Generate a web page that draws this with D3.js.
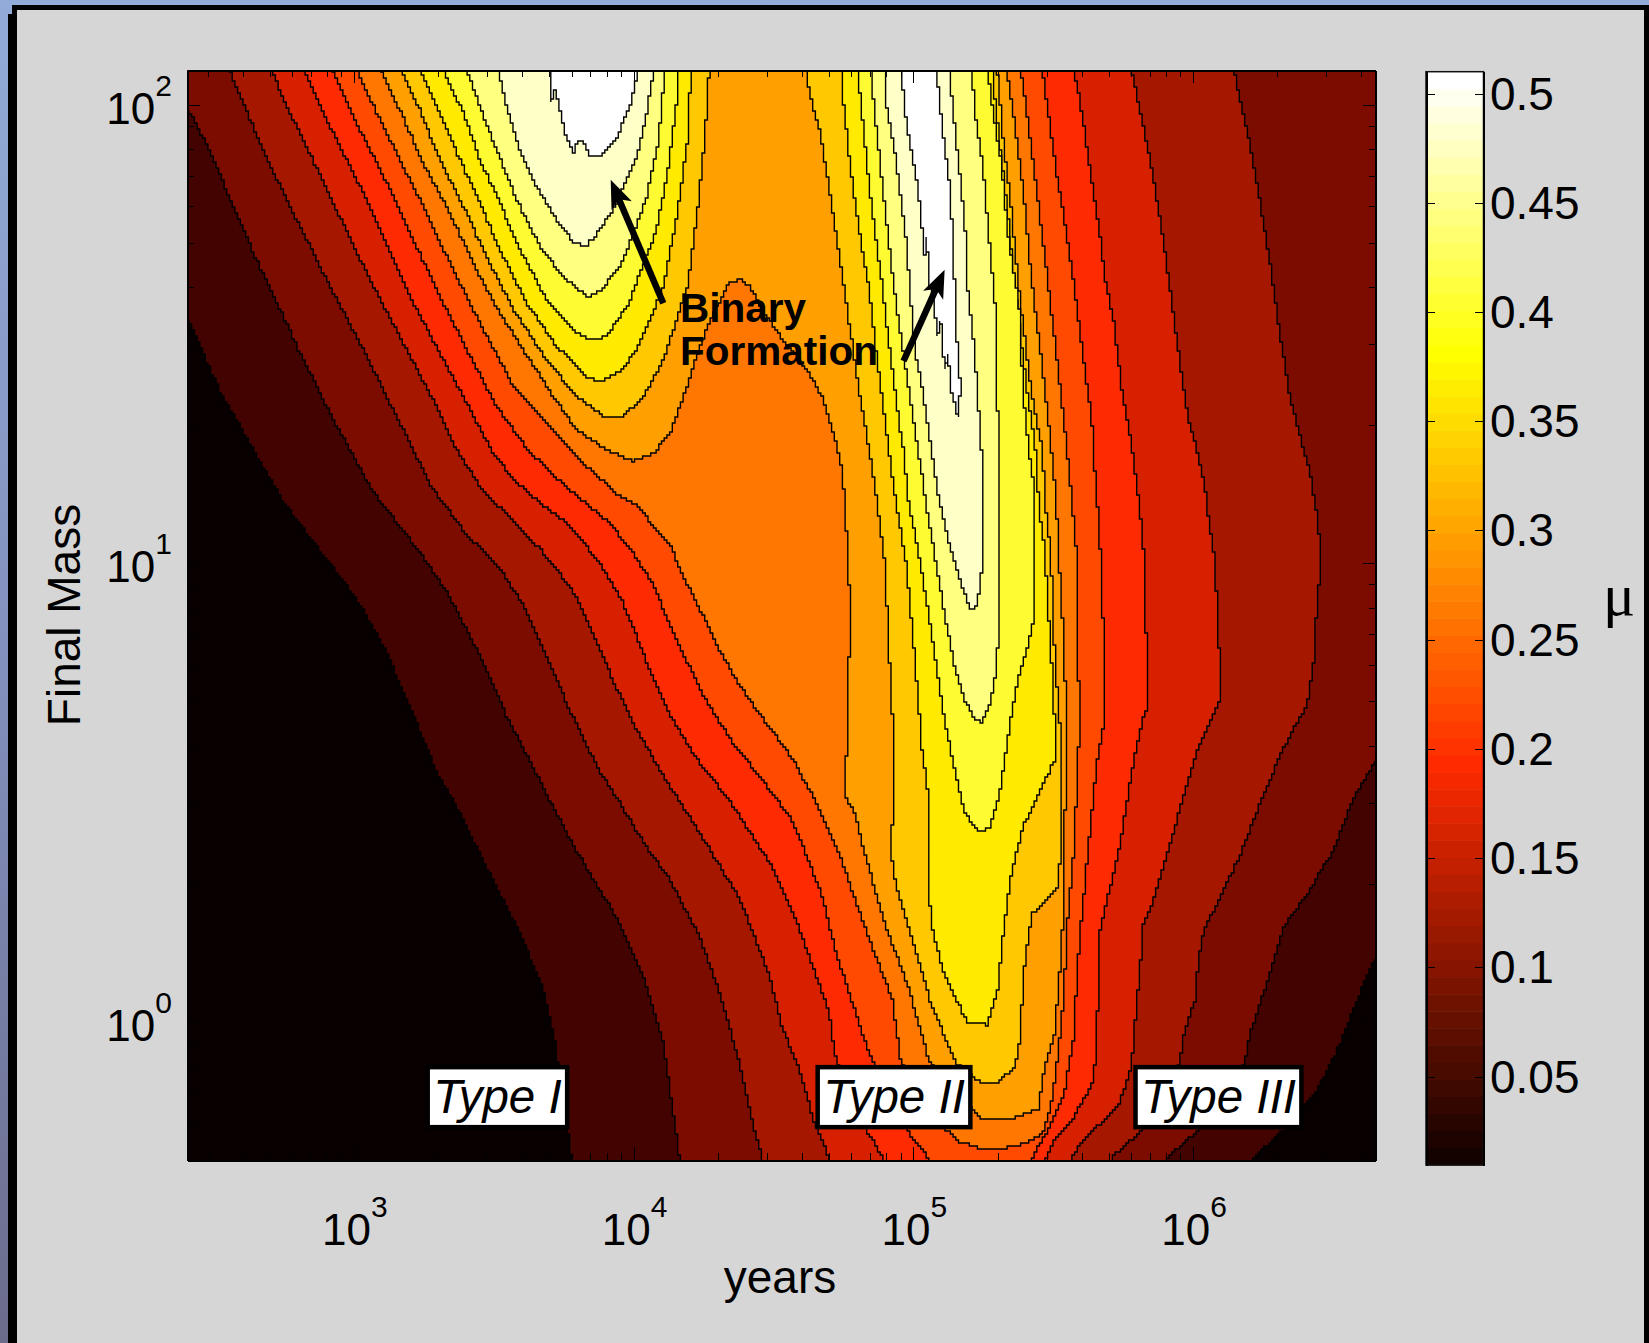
<!DOCTYPE html>
<meta charset="utf-8">
<style>
  body { margin: 0; background: #d6d6d6; }
  svg { display: block; }
  text { font-family: "Liberation Sans", Arial, sans-serif; fill: #000; }
  .axis path, .axis line { stroke: #000; shape-rendering: crispEdges; }
  .axis text { font-size: 46px; }
  .contour { stroke: #000; stroke-width: 1.4; stroke-linejoin: miter; }
</style>
<svg width="1649" height="1343"></svg>
<script src="https://d3js.org/d3.v7.min.js"></script>
<script>
  // axis limits
  var yearsDomain = [253, 4.5e6];
  var massDomain = [0.5, 119];
  var muDomain = [0.0095, 0.51];

  var xMajor = [1e3, 1e4, 1e5, 1e6];
  var yMajor = [1, 10, 100];
  var muTicks = [0.05, 0.1, 0.15, 0.2, 0.25, 0.3, 0.35, 0.4, 0.45, 0.5];

  // colours of the filled bands, lowest first (band 0 is the plot background)
  var bandColors = ["#080000", "#430300", "#7c0c00", "#a61700", "#d72000", "#fd2a02", "#ff4a00",
    "#ff7700", "#ff9f00", "#ffc800", "#ffea00", "#fffb33", "#ffff80", "#ffffc8", "#ffffff"];

  // colorbar anchors: position in 0..1 and colour
  var barStops = [0, 0.375, 0.75, 1];
  var barColors = ["#0a0000", "#ff2a00", "#ffff00", "#ffffff"];

  // contour lines as [log10 years, log10 final mass]
  var contour1 = [[2.403,1.535],[2.521,1.374],[2.616,1.273],[2.640,1.247],[2.753,1.127],[2.917,.997],[3.026,.906],[3.122,.797],[3.218,.659],[3.300,.539],[3.354,.484],[3.478,.332],[3.593,.194],[3.676,.070],[3.717,-.039],[3.731,-.097],[3.779,-.301],
    [6.205,-.301],[6.325,-.235],[6.438,-.155],[6.521,-.054],[6.607,.077],[6.653,.143],[6.653,2.076],[2.403,2.076]];
  var contour2 = [[2.403,1.996],[2.479,1.905],[2.561,1.789],[2.643,1.672],[2.739,1.549],[2.807,1.458],[2.926,1.313],[3.063,1.160],[3.163,1.080],[3.272,.993],[3.355,.913],[3.450,.797],[3.546,.666],[3.656,.535],[3.793,.375],[3.943,.223],[4.039,.092],[4.107,-.046],[4.134,-.170],[4.165,-.301],
    [5.896,-.301],[6.028,-.231],[6.184,-.089],[6.205,-.024],[6.268,.092],[6.325,.208],[6.410,.281],[6.502,.375],[6.571,.484],[6.653,.571],[6.653,2.076],[2.403,2.076]];
  var contour3 = [[2.554,2.076],[2.616,1.985],[2.698,1.869],[2.807,1.734],[2.926,1.589],[3.045,1.451],[3.164,1.305],[3.283,1.160],[3.409,1.058],[3.518,.993],[3.601,.913],[3.683,.804],[3.765,.688],[3.874,.550],[3.943,.484],[4.052,.375],[4.121,.317],[4.230,.194],[4.312,.055],[4.381,-.097],[4.435,-.242],[4.462,-.301],
    [5.700,-.301],[5.823,-.231],[5.950,-.090],[5.972,-.017],[6.007,.048],[6.021,.143],[6.042,.208],[6.099,.273],[6.171,.369],[6.240,.477],[6.310,.579],[6.368,.651],[6.407,.688],[6.431,.782],[6.445,.927],[6.459,1.000],[6.445,1.102],[6.417,1.204],[6.396,1.247],[6.346,1.367],[6.310,1.505],[6.275,1.658],[6.240,1.789],[6.205,1.912],[6.169,2.007],[6.148,2.076]];
  var contour4 = [[2.705,2.076],[2.766,1.985],[2.807,1.938],[2.926,1.785],[3.057,1.618],[3.164,1.494],[3.283,1.356],[3.368,1.247],[3.457,1.160],[3.518,1.124],[3.628,1.055],[3.710,1.000],[3.793,.927],[3.861,.840],[3.929,.739],[4.011,.637],[4.121,.521],[4.262,.386],[4.381,.266],[4.487,.099],[4.530,-.010],[4.593,-.104],[4.643,-.213],[4.702,-.301],
    [5.557,-.301],[5.618,-.250],[5.731,-.184],[5.773,-.112],[5.785,-.061],[5.802,.063],[5.813,.135],[5.823,.215],[5.859,.266],[5.901,.353],[5.972,.506],[6.014,.590],[6.042,.630],[6.099,.706],[6.092,.840],[6.077,1.015],[6.050,1.124],[6.042,1.171],[6.014,1.247],[5.985,1.309],[5.950,1.454],[5.915,1.614],[5.880,1.760],[5.844,1.890],[5.802,2.015],[5.781,2.076]];
  var contour5 = [[2.819,2.076],[2.914,1.952],[3.010,1.836],[3.105,1.712],[3.200,1.581],[3.307,1.458],[3.403,1.349],[3.492,1.247],[3.560,1.189],[3.656,1.135],[3.751,1.091],[3.833,1.036],[3.902,.978],[3.957,.920],[4.011,.840],[4.066,.753],[4.134,.666],[4.217,.579],[4.340,.484],[4.449,.382],[4.487,.346],[4.586,.215],[4.699,.019],[4.720,-.075],[4.826,-.231],[4.897,-.301],
    [5.470,-.301],[5.505,-.257],[5.576,-.206],[5.639,-.133],[5.653,-.075],[5.661,.063],[5.668,.201],[5.738,.382],[5.788,.571],[5.823,.666],[5.841,.684],[5.841,.818],[5.826,.869],[5.823,1.029],[5.809,1.124],[5.781,1.258],[5.745,1.382],[5.717,1.527],[5.688,1.614],[5.661,1.745],[5.632,1.861],[5.604,1.978],[5.576,2.076]];
  var contour6 = [[2.920,2.076],[3.010,1.959],[3.117,1.829],[3.212,1.705],[3.307,1.581],[3.403,1.465],[3.510,1.342],[3.621,1.247],[3.738,1.178],[3.847,1.120],[3.915,1.087],[4.005,1.015],[4.066,.957],[4.121,.877],[4.175,.804],[4.258,.702],[4.354,.608],[4.487,.506],[4.558,.448],[4.607,.379],[4.671,.281],[4.727,.143],[4.841,-.068],[4.975,-.235],[5.059,-.301],
    [5.420,-.301],[5.484,-.231],[5.540,-.155],[5.576,-.024],[5.583,.085],[5.597,.194],[5.625,.375],[5.653,.550],[5.686,.673],[5.681,.840],[5.668,1.036],[5.653,1.175],[5.643,1.247],[5.639,1.309],[5.597,1.498],[5.569,1.636],[5.540,1.752],[5.512,1.854],[5.477,2.007],[5.462,2.076]];
  var contour7 = [[3.010,2.076],[3.093,1.967],[3.176,1.865],[3.260,1.763],[3.343,1.654],[3.450,1.523],[3.570,1.385],[3.712,1.291],[3.820,1.218],[3.936,1.153],[4.025,1.120],[4.066,1.080],[4.134,1.036],[4.182,.964],[4.244,.891],[4.312,.804],[4.381,.731],[4.487,.640],[4.572,.571],[4.614,.521],[4.650,.484],[4.742,.353],[4.826,.208],[4.925,.048],[4.954,-.083],[5.116,-.235],[5.166,-.261],[5.229,-.275],[5.328,-.275],[5.406,-.264],[5.462,-.242],[5.491,-.188],[5.512,-.097],[5.526,-.024],[5.540,.070],[5.548,.194],[5.576,.390],[5.593,.630],[5.590,.811],[5.583,1.029],[5.569,1.127],[5.550,1.247],[5.526,1.382],[5.498,1.527],[5.470,1.672],[5.441,1.818],[5.413,1.949],[5.385,2.076]];
  var contour8 = [[3.093,2.076],[3.164,1.988],[3.248,1.872],[3.343,1.763],[3.426,1.654],[3.522,1.545],[3.629,1.443],[3.712,1.363],[3.796,1.291],[3.903,1.247],[3.998,1.222],[4.070,1.240],[4.130,1.284],[4.177,1.363],[4.225,1.451],[4.279,1.538],[4.344,1.614],[4.380,1.618],[4.416,1.603],[4.475,1.538],[4.535,1.487],[4.618,1.422],[4.671,1.367],[4.713,1.287],[4.749,1.193],[4.756,1.102],[4.766,1.029],[4.774,.891],[4.766,.673],[4.756,.491],[4.791,.455],[4.826,.368],[4.897,.215],[4.982,.077],[5.059,-.090],[5.243,-.213],[5.349,-.213],[5.449,-.188],[5.462,-.119],[5.505,-.024],[5.519,.070],[5.533,.194],[5.540,.375],[5.548,.630],[5.540,.811],[5.519,1.029],[5.512,1.127],[5.494,1.247],[5.484,1.309],[5.456,1.454],[5.420,1.636],[5.399,1.781],[5.370,1.927],[5.335,2.076]];
  var contour9a = [[3.168,2.076],[3.236,1.988],[3.307,1.879],[3.391,1.778],[3.462,1.683],[3.570,1.552],[3.689,1.443],[3.796,1.363],[3.903,1.316],[3.963,1.320],[4.034,1.363],[4.106,1.443],[4.195,1.611],[4.231,1.785],[4.255,1.930],[4.270,2.076]];
  var contour9b = [[4.619,2.076],[4.628,2.028],[4.671,1.927],[4.699,1.818],[4.735,1.672],[4.770,1.527],[4.805,1.382],[4.841,1.251],[4.872,1.127],[4.897,1.007],[4.911,.848],[4.918,.746],[4.928,.644],[4.933,.484],[4.918,.375],[4.939,.295],[4.996,.179],[5.066,.034],[5.151,-.090],[5.237,-.132],[5.300,-.132],[5.364,-.097],[5.385,-.024],[5.392,.099],[5.413,.194],[5.427,.237],[5.519,.295],[5.526,.375],[5.526,.630],[5.505,.811],[5.491,1.029],[5.472,1.127],[5.462,1.247],[5.420,1.382],[5.378,1.600],[5.349,1.781],[5.321,1.927],[5.300,2.076]];
  var contour10a = [[3.238,2.076],[3.307,1.981],[3.379,1.879],[3.450,1.785],[3.522,1.683],[3.617,1.567],[3.725,1.472],[3.832,1.407],[3.879,1.396],[3.951,1.418],[4.011,1.465],[4.106,1.603],[4.154,1.756],[4.195,1.930],[4.204,2.076]];
  var contour10b = [[4.745,2.076],[4.749,2.014],[4.777,1.854],[4.805,1.731],[4.841,1.600],[4.869,1.454],[4.904,1.287],[4.939,1.127],[4.975,1.000],[5.003,.811],[5.031,.593],[5.053,.499],[5.059,.390],[5.053,.310],[5.066,.208],[5.109,.106],[5.194,-.003],[5.265,-.006],[5.307,.085],[5.314,.157],[5.349,.317],[5.392,.426],[5.449,.499],[5.505,.571],[5.508,.622],[5.498,.753],[5.484,.884],[5.470,1.029],[5.449,1.127],[5.437,1.247],[5.406,1.382],[5.364,1.600],[5.335,1.781],[5.307,1.927],[5.282,2.076]];
  var contour11a = [[3.319,2.076],[3.391,1.981],[3.450,1.879],[3.522,1.785],[3.582,1.698],[3.689,1.574],[3.796,1.502],[3.844,1.487],[3.903,1.494],[3.981,1.567],[4.082,1.727],[4.124,1.865],[4.154,2.003],[4.159,2.076]];
  var contour11b = [[4.801,2.076],[4.819,1.963],[4.841,1.832],[4.869,1.694],[4.890,1.600],[4.918,1.454],[4.954,1.287],[4.965,1.247],[4.982,1.138],[5.025,1.000],[5.067,.840],[5.109,.666],[5.145,.557],[5.180,.462],[5.222,.423],[5.243,.415],[5.272,.426],[5.307,.491],[5.335,.608],[5.371,.739],[5.406,.811],[5.431,.877],[5.431,1.175],[5.413,1.247],[5.392,1.382],[5.378,1.563],[5.342,1.701],[5.314,1.876],[5.286,1.985],[5.265,2.076]];
  var contour12a = [[3.403,2.076],[3.450,1.996],[3.510,1.901],[3.582,1.792],[3.665,1.690],[3.748,1.625],[3.832,1.581],[3.879,1.592],[3.963,1.661],[4.046,1.799],[4.088,1.916],[4.112,2.076]];
  var contour12b = [[4.848,2.076],[4.862,1.985],[4.890,1.818],[4.918,1.672],[4.939,1.563],[4.975,1.418],[5.017,1.247],[5.053,1.102],[5.109,.898],[5.145,.782],[5.187,.695],[5.222,.659],[5.243,.651],[5.272,.688],[5.293,.753],[5.303,.826],[5.304,1.109],[5.311,1.247],[5.307,1.273],[5.293,1.418],[5.293,1.563],[5.272,1.701],[5.250,1.861],[5.222,1.978],[5.208,2.076]];
  var contour13a = [[3.516,2.076],[3.546,1.996],[3.593,1.901],[3.653,1.821],[3.725,1.749],[3.790,1.696],[3.832,1.694],[3.879,1.727],[3.939,1.785],[4.011,1.887],[4.046,1.981],[4.073,2.076]];
  var contour13b = [[4.897,2.076],[4.904,1.999],[4.939,1.876],[4.975,1.701],[5.003,1.476],[5.031,1.382],[5.064,1.247],[5.088,1.153],[5.124,1.051],[5.166,.964],[5.201,.902],[5.222,.898],[5.237,.942],[5.246,.993],[5.246,1.225],[5.229,1.382],[5.215,1.491],[5.194,1.600],[5.187,1.716],[5.166,1.854],[5.140,1.999],[5.130,2.076]];
  var contour14a = [[3.701,2.076],[3.707,2.007],[3.719,2.032],[3.734,1.996],[3.754,1.938],[3.787,1.893],[3.796,1.919],[3.818,1.919],[3.844,1.889],[3.868,1.885],[3.903,1.901],[3.939,1.930],[3.981,1.988],[4.005,2.039],[4.013,2.076]];
  var contour14b = [[4.958,2.076],[4.968,1.999],[4.982,1.934],[5.017,1.818],[5.031,1.731],[5.041,1.672],[5.048,1.709],[5.056,1.614],[5.074,1.557],[5.088,1.498],[5.098,1.527],[5.112,1.425],[5.124,1.454],[5.134,1.382],[5.159,1.320],[5.169,1.382],[5.151,1.527],[5.145,1.672],[5.131,1.818],[5.109,1.927],[5.088,2.043],[5.088,2.076]];

  var contours = [
    [1, contour1], [2, contour2], [3, contour3], [4, contour4], [5, contour5], [6, contour6], [7, contour7], [8, contour8],
    [9, contour9a], [9, contour9b], [10, contour10a], [10, contour10b], [11, contour11a], [11, contour11b],
    [12, contour12a], [12, contour12b], [13, contour13a], [13, contour13b], [14, contour14a], [14, contour14b]
  ];

  // annotations, same units
  var arrowTails = [[4.106, 1.567], [4.965, 1.441]];
  var arrowHeads = [[3.918, 1.836], [5.112, 1.640]];
  var typeLabels = ["Type I", "Type II", "Type III"];
  var typeLogYears = [3.513, 4.931, 6.091];
  var typeLogMass = -0.164;
  var binaryLines = ["Binary", "Formation"];
  var binaryLogMass = [1.526, 1.433];
  var binaryLogYears = 4.166;

  var svg = d3.select("svg"),
    margin = { top: 70, right: 1375.7, bottom: 1160, left: 187 };

  var x = d3.scaleLog().domain(yearsDomain).range([margin.left, margin.right]),
    y = d3.scaleLog().domain(massDomain).range([margin.bottom, margin.top]),
    mu = d3.scaleLinear().domain(muDomain).range([1165, 71.7]);

  function px(d) { return [x(Math.pow(10, d[0])), y(Math.pow(10, d[1]))]; }

  // slide edge behind the panel
  var defs = svg.append("defs");
  var grad = defs.append("linearGradient").attr("id", "slide")
    .attr("x1", 0).attr("y1", 0).attr("x2", 0).attr("y2", 1);
  grad.append("stop").attr("offset", 0).attr("stop-color", "#92abd8");
  grad.append("stop").attr("offset", 0.5).attr("stop-color", "#8290bc");
  grad.append("stop").attr("offset", 1).attr("stop-color", "#6b6c8c");
  defs.append("clipPath").attr("id", "plot").append("rect")
    .attr("x", margin.left).attr("y", margin.top)
    .attr("width", margin.right - margin.left).attr("height", margin.bottom - margin.top);

  svg.append("rect").attr("width", 1649).attr("height", 1343).attr("fill", "url(#slide)");
  svg.append("rect").attr("x", 12).attr("y", 5).attr("width", 1637).attr("height", 1338).attr("fill", "#000");
  svg.append("rect").attr("x", 8).attr("y", 14).attr("width", 9).attr("height", 1329).attr("fill", "#000");
  svg.append("rect").attr("x", 17).attr("y", 10).attr("width", 1627).attr("height", 1333).attr("fill", "#d6d6d6");

  // the original contours sit on a coarse grid, so walk each line and snap it
  var gridX = 2.7, gridY = 3;
  function stairs(points) {
    var out = [], last = null;
    points.map(px).forEach(function(b, i, all) {
      var a = all[(i + all.length - 1) % all.length];
      var n = Math.ceil(Math.hypot(b[0] - a[0], b[1] - a[1]));
      for (var k = 1; k <= n; k++) {
        var p = a[0] + (b[0] - a[0]) * k / n, q = a[1] + (b[1] - a[1]) * k / n;
        var sx = Math.round(p / gridX) * gridX, sy = Math.round(q / gridY) * gridY;
        // keep the fill flush with the plot edges
        if (p < margin.left + 2) sx = margin.left - 4;
        if (p > margin.right - 2) sx = margin.right + 4;
        if (q < margin.top + 2) sy = margin.top - 4;
        if (q > margin.bottom - 2) sy = margin.bottom + 4;
        if (!last || last[0] !== sx || last[1] !== sy) {
          last = [sx, sy];
          out.push(last);
        }
      }
    });
    return out;
  }

  var line = d3.line().curve(d3.curveStepAfter);
  var plot = svg.append("g").attr("clip-path", "url(#plot)");

  plot.append("rect")
    .attr("x", margin.left).attr("y", margin.top)
    .attr("width", margin.right - margin.left).attr("height", margin.bottom - margin.top)
    .attr("fill", bandColors[0]);

  plot.selectAll(".contour")
    .data(contours)
    .enter().append("path")
    .attr("class", "contour")
    .attr("fill", function(d) { return bandColors[d[0]]; })
    .attr("d", function(d) { return line(stairs(d[1])) + "Z"; });

  // axes: minor ticks from the log scale, majors from the lists
  function minorOf(scale) {
    return scale.ticks().filter(function(d) {
      var l = Math.log10(d);
      return Math.abs(l - Math.round(l)) > 1e-6;
    });
  }

  function ticks(axis, scale, values, size, tx, ty) {
    svg.append("g").attr("class", "axis")
      .attr("transform", "translate(" + tx + "," + ty + ")")
      .call(axis(scale).tickValues(values).tickSizeInner(size).tickSizeOuter(0).tickFormat(""))
      .call(function(g) { g.select(".domain").attr("stroke-width", 2); });
  }

  var L = margin.left, R = margin.right, T = margin.top, B = margin.bottom;
  ticks(d3.axisBottom, x, minorOf(x), -7, 0, B);
  ticks(d3.axisBottom, x, xMajor, -13, 0, B);
  ticks(d3.axisTop, x, minorOf(x), -7, 0, T);
  ticks(d3.axisTop, x, xMajor, -13, 0, T);
  ticks(d3.axisLeft, y, minorOf(y), -7, L, 0);
  ticks(d3.axisLeft, y, yMajor, -13, L, 0);
  ticks(d3.axisRight, y, minorOf(y), -7, R, 0);
  ticks(d3.axisRight, y, yMajor, -13, R, 0);

  function power(sel, val) {
    var t = sel.append("text");
    t.append("tspan").style("font-size", "44px").text("10");
    t.append("tspan").style("font-size", "30px").attr("dy", -28).text(Math.round(Math.log10(val)));
    return t;
  }

  xMajor.forEach(function(v) {
    power(svg, v).attr("x", x(v) + 1).attr("y", 1245).attr("text-anchor", "middle");
  });
  yMajor.forEach(function(v) {
    power(svg, v).attr("x", L - 15).attr("y", y(v) + 19).attr("text-anchor", "end");
  });

  svg.append("text").attr("x", 780).attr("y", 1293).attr("text-anchor", "middle")
    .style("font-size", "46px").text("years");
  svg.append("text").attr("transform", "translate(80,615) rotate(-90)").attr("text-anchor", "middle")
    .style("font-size", "46px").text("Final Mass");

  // arrows
  arrowTails.forEach(function(tail, i) {
    var a = px(tail), b = px(arrowHeads[i]);
    var ang = Math.atan2(b[1] - a[1], b[0] - a[0]);
    function off(back, side) {
      return [b[0] - back * Math.cos(ang) - side * Math.sin(ang),
        b[1] - back * Math.sin(ang) + side * Math.cos(ang)];
    }
    svg.append("line").attr("x1", a[0]).attr("y1", a[1])
      .attr("x2", off(18, 0)[0]).attr("y2", off(18, 0)[1])
      .attr("stroke", "#000").attr("stroke-width", 6.5);
    svg.append("polygon").attr("fill", "#000")
      .attr("points", [b, off(28, 11), off(21, 0), off(28, -11)].join(" "));
  });

  binaryLines.forEach(function(s, i) {
    svg.append("text").attr("x", x(Math.pow(10, binaryLogYears))).attr("y", y(Math.pow(10, binaryLogMass[i])))
      .style("font-size", "40.5px").style("font-weight", "bold").text(s);
  });

  // type boxes
  var boxes = svg.selectAll(".type").data(typeLabels).enter().append("g").attr("class", "type")
    .attr("transform", function(d, i) {
      return "translate(" + x(Math.pow(10, typeLogYears[i])) + "," + y(Math.pow(10, typeLogMass)) + ")";
    });
  var boxRect = boxes.append("rect").attr("fill", "#fff").attr("stroke", "#000").attr("stroke-width", 4.5);
  boxes.append("text").attr("text-anchor", "middle").attr("y", 16)
    .style("font-size", "47.5px").style("font-style", "italic").text(function(d) { return d; });
  boxRect.each(function() {
    var w = this.parentNode.querySelector("text").getComputedTextLength() + 11;
    d3.select(this).attr("x", -w / 2).attr("y", -30).attr("width", w).attr("height", 60);
  });

  // colorbar
  var barX = 1426, barW = 57.5, nColors = 64;
  var barScale = d3.scaleLinear().domain(barStops).range(barColors);
  var barSteps = d3.range(nColors);
  var stepH = (mu.range()[0] - mu.range()[1]) / nColors;
  svg.selectAll(".step").data(barSteps).enter().append("rect")
    .attr("class", "step")
    .attr("x", barX).attr("width", barW)
    .attr("y", function(i) { return mu.range()[0] - (i + 1) * stepH; })
    .attr("height", stepH + 0.5)
    .attr("fill", function(i) { return barScale((i + 1) / nColors); });
  svg.append("rect").attr("x", barX).attr("y", mu.range()[1]).attr("width", barW)
    .attr("height", mu.range()[0] - mu.range()[1])
    .attr("fill", "none").attr("stroke", "#111").attr("stroke-width", 1.5);

  ticks(d3.axisRight, mu, muTicks, 9, barX, 0);
  ticks(d3.axisLeft, mu, muTicks, 9, barX + barW, 0);
  svg.selectAll(".barlabel").data(muTicks).enter().append("text")
    .attr("class", "barlabel")
    .attr("x", 1490).attr("y", function(d) { return mu(d) + 16; })
    .style("font-size", "46px")
    .text(function(d) { return d3.format("")(d); });

  svg.append("text").attr("x", 1603).attr("y", 615)
    .style("font-family", "'Liberation Serif', serif").style("font-size", "60px").text("\u03bc");
</script>
